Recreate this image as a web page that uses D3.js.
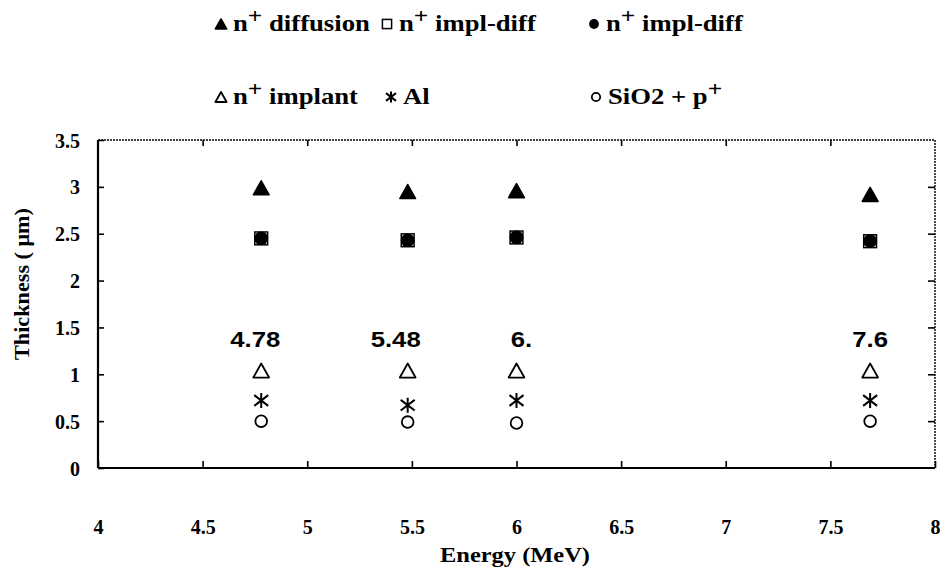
<!DOCTYPE html>
<html>
<head>
<meta charset="utf-8">
<script src="https://cdn.jsdelivr.net/npm/d3@7"></script>
<style>
  html, body { margin: 0; padding: 0; background: #fff; }
  svg { display: block; }
</style>
</head>
<body>
<svg id="chart" width="940" height="570"></svg>
<script>
// Beam energies (MeV) and the energy annotations written above each column
const energies = [4.78, 5.48, 6.0, 7.69];
const energyLabels = ["4.78", "5.48", "6.", "7.6"];

// Thickness (µm) for each layer type
const nDiffusion      = [2.99, 2.95, 2.96, 2.92];
const nImplDiffOpen   = [2.45, 2.43, 2.46, 2.42];
const nImplDiffFilled = [2.45, 2.43, 2.46, 2.42];
const nImplant        = [1.04, 1.04, 1.04, 1.04];
const aluminium       = [0.72, 0.67, 0.72, 0.72];
const sio2pPlus       = [0.50, 0.49, 0.48, 0.50];

// Axis ticks
const xTicks = [4, 4.5, 5, 5.5, 6, 6.5, 7, 7.5, 8];
const yTicks = [0, 0.5, 1, 1.5, 2, 2.5, 3, 3.5];

const SERIF = '"Liberation Serif", "Times New Roman", Times, "DejaVu Serif", serif';
const SANS = '"Liberation Sans", Arial, sans-serif';

const svg = d3.select("#chart");
const x = d3.scaleLinear().domain([4, 8]).range([98, 935]);
const y = d3.scaleLinear().domain([0, 3.5]).range([468, 140]);

function serifText(sel, size) {
  return sel.style("font-family", SERIF).style("font-weight", "bold")
    .style("font-size", size + "px").style("fill", "#000");
}

// ---- marker drawing helpers ----
function drawMarker(g, kind, cx, cy, s) {
  const k = s / 12;
  if (kind === "triFilled" || kind === "triOpen") {
    const h = 12 * k, w = 13.5 * k;
    g.append("path")
      .attr("d", `M${cx},${cy - h / 2}L${cx + w / 2},${cy + h / 2}L${cx - w / 2},${cy + h / 2}Z`)
      .attr("fill", kind === "triFilled" ? "#000" : "#fff")
      .attr("stroke", "#000").attr("stroke-width", kind === "triFilled" ? 1.6 : 1.8).attr("stroke-linejoin", "round");
  } else if (kind === "square") {
    const a = 11 * k;
    g.append("rect").attr("x", cx - a / 2).attr("y", cy - a / 2).attr("width", a).attr("height", a)
      .attr("fill", "#fff").attr("stroke", "#000").attr("stroke-width", 1.5);
  } else if (kind === "dot") {
    g.append("circle").attr("cx", cx).attr("cy", cy).attr("r", 5.9 * k).attr("fill", "#000");
  } else if (kind === "circle") {
    g.append("circle").attr("cx", cx).attr("cy", cy).attr("r", 5 * k)
      .attr("fill", "#fff").attr("stroke", "#000").attr("stroke-width", 1.8);
  } else if (kind === "star") {
    const r = 6.5 * k, dx = 6 * k, dy = 4.6 * k;
    g.append("path")
      .attr("d", `M${cx},${cy - r}L${cx},${cy + r}M${cx - dx},${cy - dy}L${cx + dx},${cy + dy}M${cx - dx},${cy + dy}L${cx + dx},${cy - dy}`)
      .attr("stroke", "#000").attr("stroke-width", 2).attr("fill", "none");
  }
}

// ---- frame: solid left/bottom, dotted top/right ----
const frame = svg.append("g");
frame.append("line").attr("x1", x(4)).attr("x2", x(4)).attr("y1", y(3.5)).attr("y2", y(0))
  .attr("stroke", "#000").attr("stroke-width", 2.2);
frame.append("line").attr("x1", x(4)).attr("x2", x(8)).attr("y1", y(0)).attr("y2", y(0))
  .attr("stroke", "#000").attr("stroke-width", 2.2);
frame.append("line").attr("x1", x(4)).attr("x2", x(8)).attr("y1", y(3.5)).attr("y2", y(3.5))
  .attr("stroke", "#000").attr("stroke-width", 1.4).attr("stroke-dasharray", "2,1");
frame.append("line").attr("x1", x(8)).attr("x2", x(8)).attr("y1", y(3.5)).attr("y2", y(0))
  .attr("stroke", "#000").attr("stroke-width", 1.4).attr("stroke-dasharray", "2,1");

// ---- axes (ticks point inward) ----
const xAxisBottom = d3.axisBottom(x).tickValues(xTicks).tickSizeInner(-7).tickSizeOuter(0).tickFormat(d3.format("~g"));
const gx = svg.append("g").attr("transform", `translate(0,${y(0)})`).call(xAxisBottom);
gx.select(".domain").remove();
gx.selectAll(".tick line").attr("stroke", "#000").attr("stroke-width", 1.6);
serifText(gx.selectAll(".tick text").attr("y", 66).attr("dy", 0), 20);

const xAxisTop = d3.axisTop(x).tickValues(xTicks.slice(1, -1)).tickSizeInner(-6).tickSizeOuter(0).tickFormat("");
const gxt = svg.append("g").attr("transform", `translate(0,${y(3.5)})`).call(xAxisTop);
gxt.select(".domain").remove();
gxt.selectAll(".tick line").attr("stroke", "#000").attr("stroke-width", 1.6);

const yAxisLeft = d3.axisLeft(y).tickValues(yTicks).tickSizeInner(-6).tickSizeOuter(0).tickFormat(d3.format("~g"));
const gy = svg.append("g").attr("transform", `translate(${x(4)},0)`).call(yAxisLeft);
gy.select(".domain").remove();
gy.selectAll(".tick line").attr("stroke", "#000").attr("stroke-width", 1.6);
serifText(gy.selectAll(".tick text").attr("x", -18).attr("dy", "0.35em"), 20);

const yAxisRight = d3.axisRight(y).tickValues(yTicks.slice(1, -1)).tickSizeInner(-7).tickSizeOuter(0).tickFormat("");
const gyr = svg.append("g").attr("transform", `translate(${x(8)},0)`).call(yAxisRight);
gyr.select(".domain").remove();
gyr.selectAll(".tick line").attr("stroke", "#000").attr("stroke-width", 1.6);

// ---- axis titles ----
serifText(svg.append("text").attr("x", 515).attr("y", 562)
  .attr("text-anchor", "middle")
  .attr("textLength", 150).attr("lengthAdjust", "spacingAndGlyphs")
  .text("Energy  (MeV)"), 21);
serifText(svg.append("text")
  .attr("transform", `translate(29,284) rotate(-90)`)
  .attr("text-anchor", "middle")
  .attr("textLength", 152).attr("lengthAdjust", "spacingAndGlyphs")
  .text("Thickness ( μm)"), 21);

// ---- data points ----
const series = [
  { kind: "triFilled", values: nDiffusion },
  { kind: "square",    values: nImplDiffOpen },
  { kind: "dot",       values: nImplDiffFilled },
  { kind: "triOpen",   values: nImplant },
  { kind: "star",      values: aluminium },
  { kind: "circle",    values: sio2pPlus }
];
const pts = svg.append("g");
series.forEach(s => {
  s.values.forEach((v, i) => drawMarker(pts, s.kind, x(energies[i]), y(v), 14));
});

// ---- energy annotations above each column ----
const labelShift = [-6, -12, 5, 0];
svg.append("g").selectAll("text").data(energies).join("text")
  .attr("transform", (d, i) => `translate(${x(d) + labelShift[i]},${y(1.29)}) scale(1.12,1)`)
  .attr("text-anchor", "middle")
  .style("font-family", SANS).style("font-weight", "bold")
  .style("font-size", "23px").style("fill", "#000")
  .text((d, i) => energyLabels[i]);

// ---- legend ----
const legendItems = [
  { kind: "triFilled", label: "diffusion",  lx: 221, ly: 24,  sup: true },
  { kind: "square",    label: "impl-diff",  lx: 387, ly: 24,  sup: true },
  { kind: "dot",       label: "impl-diff",  lx: 594, ly: 24,  sup: true },
  { kind: "triOpen",   label: "implant",    lx: 221, ly: 97,  sup: true },
  { kind: "star",      label: "Al",         lx: 391, ly: 97,  sup: false },
  { kind: "circle",    label: "SiO2 + p",   lx: 596, ly: 97,  sup: false, tailSup: true }
];
const lg = svg.append("g");
legendItems.forEach(it => {
  drawMarker(lg, it.kind, it.lx, it.ly, 10);
  const t = serifText(lg.append("text")
    .attr("transform", `translate(${it.lx + 12},${it.ly + 7}) scale(1.16,1)`), 23);
  if (it.sup) {
    t.append("tspan").text("n");
    t.append("tspan").attr("dy", -8).style("font-size", "22px").text("+");
    t.append("tspan").attr("dy", 8).text(" " + it.label);
  } else if (it.tailSup) {
    t.append("tspan").text(it.label);
    t.append("tspan").attr("dy", -8).style("font-size", "22px").text("+");
  } else {
    t.text(it.label);
  }
});
</script>
</body>
</html>
